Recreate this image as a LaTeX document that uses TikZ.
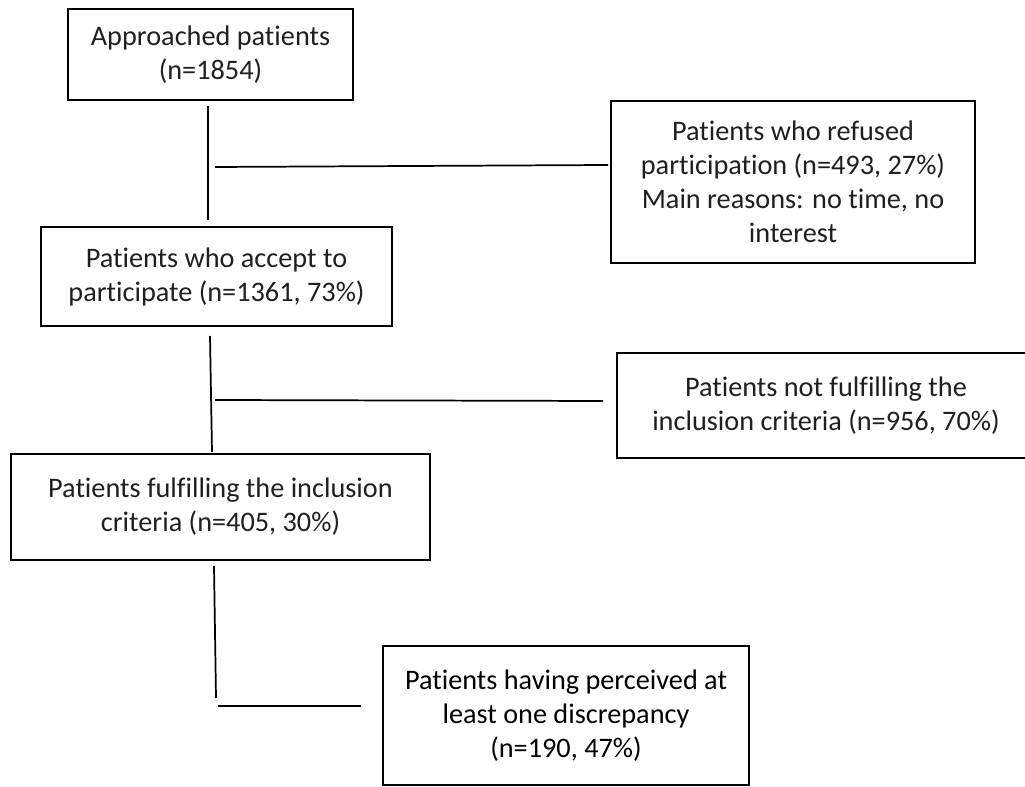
\documentclass[tikz,border=0pt]{standalone}
\usepackage{fontspec}
\setmainfont{Carlito}[Ligatures={NoCommon,NoRare,NoDiscretionary}]
\begin{document}
\begin{tikzpicture}[x=0.75pt,y=-0.75pt,
  box/.style={draw=black,line width=1.1pt,rectangle,align=center,inner sep=0pt,
    font=\fontsize{21.2}{25.5}\selectfont,text=black!88},
  conn/.style={draw=black,line width=1.3pt}]
\useasboundingbox (0,0) rectangle (1025,787);
\clip (0,0) rectangle (1025,787);
\node[box,minimum width=213.75pt,minimum height=68.25pt] (B1) at (210.5,54.5)
  {Approached patients\\(n=1854)};
\node[box,minimum width=273pt,minimum height=121.5pt] (R1) at (793,182)
  {Patients who refused\\participation (n=493, 27\%)\\Main reasons: no time, no\\interest};
\node[box,minimum width=263.25pt,minimum height=74.25pt] (B2) at (216.5,276.5)
  {Patients who accept to\\participate (n=1361, 73\%)};
\node[box,minimum width=313.5pt,minimum height=78.75pt] (R2) at (826,405.5)
  {Patients not fulfilling the\\inclusion criteria (n=956, 70\%)};
\node[box,minimum width=314.25pt,minimum height=79.5pt] (B3) at (220.5,507)
  {Patients fulfilling the inclusion\\criteria (n=405, 30\%)};
\node[box,minimum width=274.5pt,minimum height=104.25pt,text=black] (B4) at (566,715.5)
  {Patients having perceived at\\least one discrepancy\\(n=190, 47\%)};
% connector end points
\coordinate (a1) at (208,106);
\coordinate (a2) at (208,220);
\coordinate (h1a) at (215,167);
\coordinate (h1b) at (608,165);
\coordinate (b1) at (210,336);
\coordinate (b2) at (212,452);
\coordinate (h2a) at (215,400);
\coordinate (h2b) at (603,401);
\coordinate (c1) at (214,566);
\coordinate (c2) at (216,698);
\coordinate (h3a) at (218,706);
\coordinate (h3b) at (361,706);
\draw[conn] (a1) -- (a2);
\draw[conn] (h1a) -- (h1b);
\draw[conn] (b1) -- (b2);
\draw[conn] (h2a) -- (h2b);
\draw[conn] (c1) -- (c2);
\draw[conn] (h3a) -- (h3b);
\end{tikzpicture}
\end{document}
